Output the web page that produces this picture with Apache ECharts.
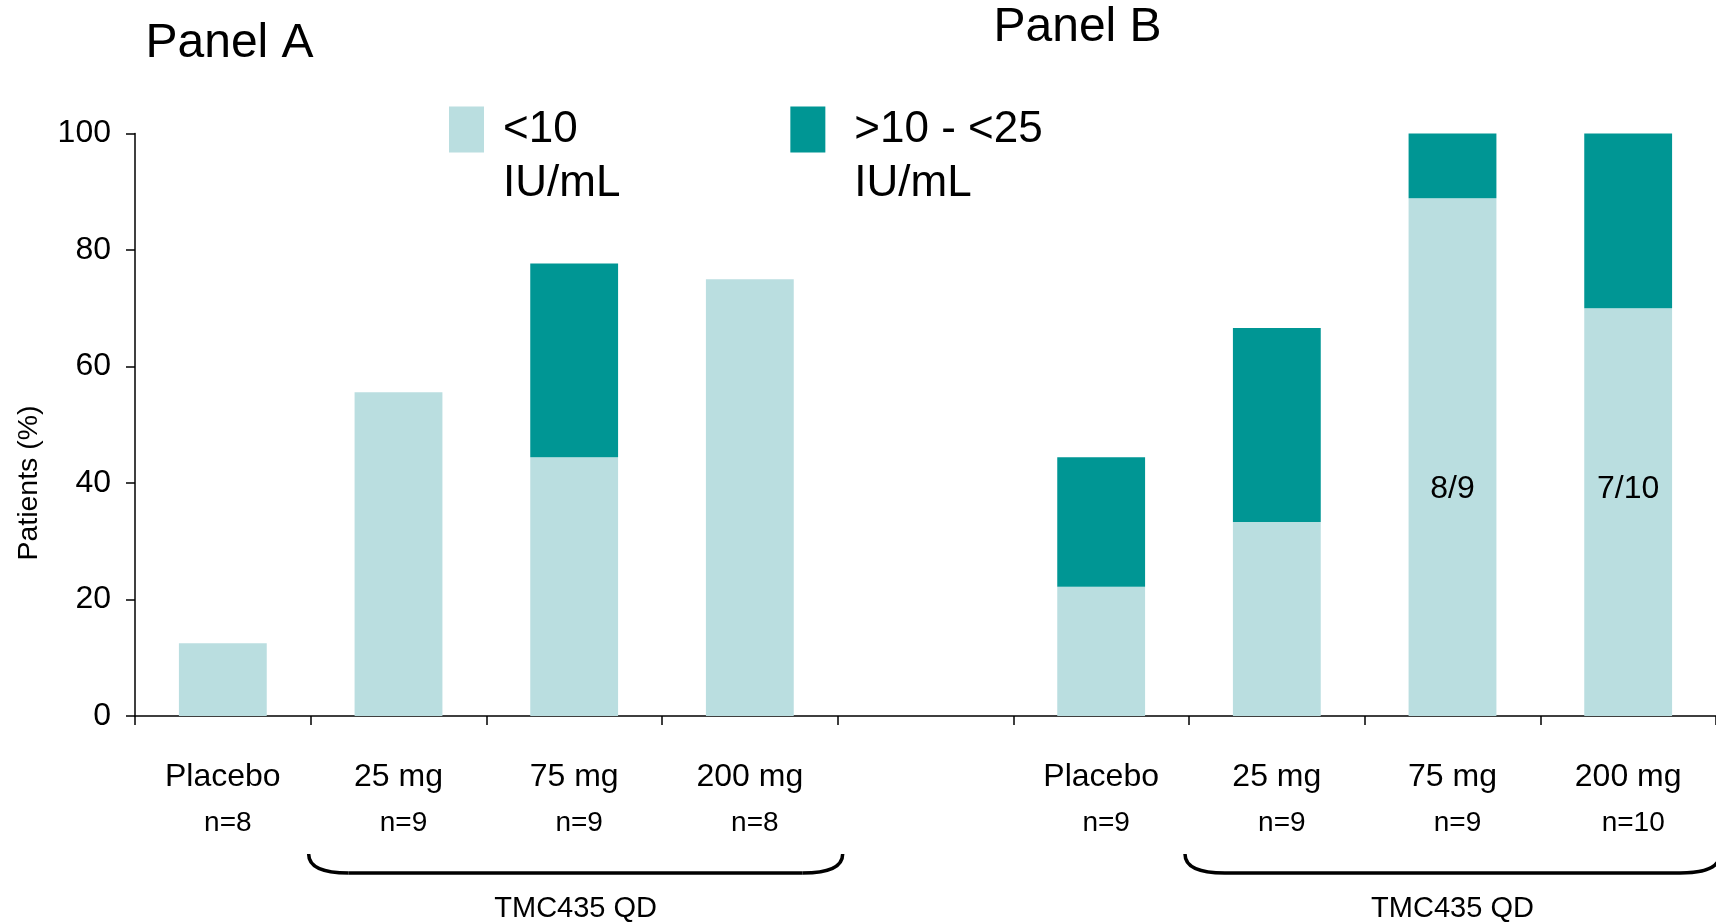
<!DOCTYPE html>
<html><head><meta charset="utf-8">
<script src="https://cdn.jsdelivr.net/npm/echarts@6/dist/echarts.min.js"></script>
<style>html,body{margin:0;padding:0;background:#fff}#c{width:1716px;height:924px}</style>
</head><body><div id="c"></div>
<script>
// ---- data ----
const groupsA = ['Placebo', '25 mg', '75 mg', '200 mg'];
const groupsB = ['Placebo', '25 mg', '75 mg', '200 mg'];
const nA = [8, 9, 9, 8];
const nB = [9, 9, 9, 10];
const below10A = [12.5, 55.6, 44.4, 75.0];
const mid10to25A = [0, 0, 33.3, 0];
const below10B = [22.2, 33.3, 88.9, 70.0];
const mid10to25B = [22.2, 33.3, 11.1, 30.0];
const fractionA = ['', '', '', ''];
const fractionB = ['', '', '8/9', '7/10'];
const yTicks = [0, 20, 40, 60, 80, 100];
const seriesNames = ['<10\nIU/mL', '>10 - <25\nIU/mL'];
const panelTitles = ['Panel A', 'Panel B'];
const bracketLabel = 'TMC435 QD';
const yAxisTitle = 'Patients (%)';

// ---- derived ----
const categories = [...groupsA, '', ...groupsB];
const nAll = [...nA, null, ...nB];
const lowAll = [...below10A, null, ...below10B];
const midAll = [...mid10to25A, null, ...mid10to25B];
const fracAll = [...fractionA, '', ...fractionB];

const SANS = "'Liberation Sans', Arial, sans-serif";
const LIGHT = '#BADEE0';
const DARK = '#009694';

const chart = echarts.init(document.getElementById('c'), null, {renderer: 'canvas'});
const option = {
  animation: false,
  backgroundColor: '#fff',
  grid: {left: 135, right: 0, top: 133.5, bottom: 208},
  legend: {
    left: 449, top: 48.5, padding: 0, itemWidth: 35, itemHeight: 46, itemGap: 170,
    icon: 'rect', selectedMode: false,
    data: [
      {name: seriesNames[0], textStyle: {padding: [0, 0, 0, 14]}},
      {name: seriesNames[1], textStyle: {padding: [0, 0, 0, 24]}}
    ],
    formatter: name => ' \n' + name,
    textStyle: {fontFamily: SANS, fontSize: 44, lineHeight: 54, color: '#000', padding: [0, 0, 0, 14]}
  },
  xAxis: {
    type: 'category', data: categories, boundaryGap: true,
    axisLine: {lineStyle: {color: '#000', width: 1.5}},
    axisTick: {show: true, length: 9, interval: 0, lineStyle: {color: '#000', width: 1.5}},
    axisLabel: {
      interval: 0, margin: 38, color: '#000',
      formatter: (v, i) => v ? `{a|${v}}\n{b|n=${nAll[i]}}` : '',
      rich: {
        a: {fontFamily: SANS, fontSize: 32, lineHeight: 46, color: '#000'},
        b: {fontFamily: SANS, fontSize: 28, lineHeight: 46, color: '#000', padding: [0, 0, 0, 10]}
      }
    }
  },
  yAxis: {
    type: 'value', min: yTicks[0], max: yTicks[yTicks.length - 1], interval: yTicks[1] - yTicks[0],
    axisLine: {show: true, lineStyle: {color: '#000', width: 1.5}},
    axisTick: {show: true, length: 9, lineStyle: {color: '#000', width: 1.5}},
    axisLabel: {margin: 24, fontFamily: SANS, fontSize: 32, color: '#000', padding: [4, 0, 0, 0]},
    splitLine: {show: false}
  },
  series: [
    {
      type: 'bar', name: seriesNames[0], stack: 'total', barWidth: '50%',
      data: lowAll, itemStyle: {color: LIGHT},
      label: {show: true, position: 'insideBottom', distance: 211,
        formatter: p => fracAll[p.dataIndex] || '',
        fontFamily: SANS, fontSize: 32, color: '#000'}
    },
    {
      type: 'bar', name: seriesNames[1], stack: 'total', barWidth: '50%',
      data: midAll, itemStyle: {color: DARK}
    }
  ]
};
chart.setOption(option);

// decorations: panel titles, axis title, brackets and group labels placed from the category axis
const cx = i => chart.convertToPixel({xAxisIndex: 0}, i);
const band = cx(1) - cx(0);
const lineStyle = {stroke: '#000', fill: null, lineWidth: 3.5};
function bracket(i0, i1, padL, padR) {
  const x1 = cx(i0) - band / 2 - padL, x2 = cx(i1) + band / 2 + padR;
  const y1 = 854, y2 = 873, r = 40;
  return [
    {type: 'bezierCurve', shape: {x1: x1, y1: y1, cpx1: x1, cpy1: y2, x2: x1 + r, y2: y2}, style: lineStyle},
    {type: 'line', shape: {x1: x1 + r, y1: y2, x2: x2 - r, y2: y2}, style: lineStyle},
    {type: 'bezierCurve', shape: {x1: x2 - r, y1: y2, cpx1: x2, cpy1: y2, x2: x2, y2: y1}, style: lineStyle},
    {type: 'text', x: (x1 + x2) / 2, y: 909,
     style: {text: bracketLabel, font: `29px ${SANS}`, fill: '#000', textAlign: 'center', textVerticalAlign: 'middle'}}
  ];
}
chart.setOption({
  graphic: [
    {type: 'text', x: 145.5, y: 44, style: {text: panelTitles[0], font: `48px ${SANS}`, fill: '#000', textVerticalAlign: 'middle'}},
    {type: 'text', x: 993.5, y: 28, style: {text: panelTitles[1], font: `48px ${SANS}`, fill: '#000', textVerticalAlign: 'middle'}},
    {type: 'text', x: 29, y: 483, rotation: Math.PI / 2,
     style: {text: yAxisTitle, font: `28.5px ${SANS}`, fill: '#000', textAlign: 'center', textVerticalAlign: 'middle'}},
    ...bracket(1, 3, 2, 5),
    ...bracket(groupsA.length + 2, groupsA.length + groupsB.length, 4, 4)
  ]
});
</script></body></html>
